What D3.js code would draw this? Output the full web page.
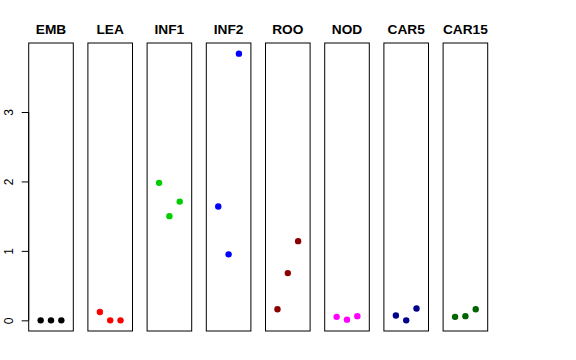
<!DOCTYPE html>
<html><head><meta charset="utf-8">
<script src="https://cdn.jsdelivr.net/npm/d3@7"></script>
<style>body{margin:0;background:#fff}svg{display:block}</style>
</head><body>
<script>
const categories = ["EMB","LEA","INF1","INF2","ROO","NOD","CAR5","CAR15"];
const colors = ["#000000","#FF0000","#00CD00","#0000FF","#8B0000","#FF00FF","#00008B","#006400"];
const replicates = [1,2,3];
const EMB = [0,0,0];
const LEA = [0.12,0,0];
const INF1 = [1.98,1.50,1.71];
const INF2 = [1.64,0.95,3.84];
const ROO = [0.16,0.68,1.14];
const NOD = [0.05,0.01,0.06];
const CAR5 = [0.07,0.0,0.17];
const CAR15 = [0.05,0.06,0.16];
const seriesValues = [EMB,LEA,INF1,INF2,ROO,NOD,CAR5,CAR15];
const yTicks = [0,1,2,3];

(function(){
const W=576,H=360;
const svg=d3.select("body").append("svg").attr("width",W).attr("height",H);
const pTop=43,pBottom=331,panelW=44.6,firstX=28.7,step=59.2;
const yMax=3.84, ext=yMax*0.04;
const y=d3.scaleLinear().domain([-ext,yMax+ext]).range([pBottom,pTop]);
const font="Liberation Sans, Arial, sans-serif";

categories.forEach((c,i)=>{
  const x0=firstX+i*step;
  const x=d3.scaleLinear().domain([-0.16,4.16]).range([x0,x0+panelW]);
  const g=svg.append("g");
  g.append("rect").attr("x",x0).attr("y",pTop).attr("width",panelW).attr("height",pBottom-pTop)
    .attr("fill","none").attr("stroke","#000").attr("stroke-width",1);
  g.selectAll("circle").data(seriesValues[i]).enter().append("circle")
    .attr("cx",(d,j)=>x(replicates[j])).attr("cy",d=>y(d)).attr("r",3.2).attr("fill",colors[i]);
  g.append("text").attr("x",x0+panelW/2).attr("y",34).attr("text-anchor","middle")
    .attr("font-family",font).attr("font-weight","bold").attr("font-size",13.7)
    .text(c);
});

const axis=svg.append("g").attr("transform",`translate(${firstX},0)`)
  .call(d3.axisLeft(y).tickValues(yTicks).tickSize(7).tickPadding(0).tickFormat(d3.format("d")));
axis.select(".domain").attr("d",`M0,${y(0)}V${y(3)}`).attr("stroke","#000");
axis.selectAll("line").attr("stroke","#000");
axis.selectAll("text").attr("font-family",font).attr("font-size",12)
  .attr("fill","#000").attr("text-anchor","middle").attr("dy",null).attr("x",null)
  .attr("transform",d=>`translate(-20,0) rotate(-90)`)
  .attr("dominant-baseline","central");
})();
</script>
</body></html>
